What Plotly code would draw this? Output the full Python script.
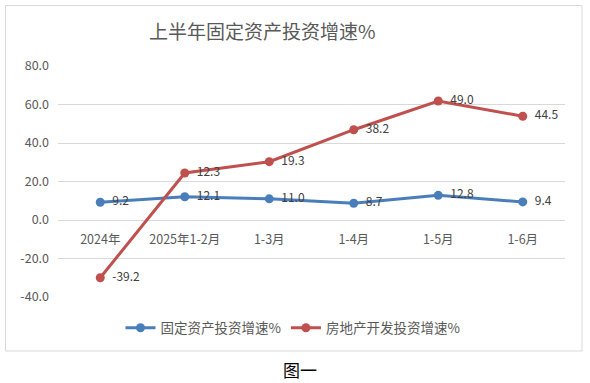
import plotly.graph_objects as go

categories = ["2024年", "2025年1-2月", "1-3月", "1-4月", "1-5月", "1-6月"]
fixed_asset = [9.2, 12.1, 11.0, 8.7, 12.8, 9.4]
real_estate = [-39.2, 12.3, 19.3, 38.2, 49.0, 44.5]
series_names = ["固定资产投资增速%", "房地产开发投资增速%"]
y_ticks = [-40, -20, 0, 20, 40, 60, 80]

W, H = 590, 383
L, R, T, B = 58, 25, 66, 86
pw, ph = W - L - R, H - T - B

def px_x(x):
    return (x - L) / pw

def px_y(y):
    return (H - B - y) / ph

FONT = "Noto Sans CJK SC, Noto Sans, sans-serif"
BLUE = "#4a7ebb"
RED = "#c0504d"

fig = go.Figure()
for name, vals, col in [(series_names[0], fixed_asset, BLUE), (series_names[1], real_estate, RED)]:
    fig.add_trace(go.Scatter(
        x=categories, y=vals, name=name, mode="lines+markers+text",
        stackgroup="s", fill="none",
        line=dict(color=col, width=3),
        marker=dict(color=col, size=9),
        text=[f"{v:.1f}" for v in vals], texttemplate="\u00a0\u00a0%{text}",
        textposition="middle right",
        textfont=dict(family=FONT, size=12, color="#404040"),
    ))

fig.update_layout(
    width=W, height=H,
    margin=dict(l=L, r=R, t=T, b=B, autoexpand=False),
    paper_bgcolor="white", plot_bgcolor="white",
    font=dict(family=FONT, color="#595959"),
    showlegend=True,
    legend=dict(orientation="h", x=px_x(293), xanchor="center", y=px_y(328), yanchor="middle",
                font=dict(size=13.5, color="#595959"), itemwidth=30, tracegroupgap=0),
    xaxis=dict(type="category", range=[-0.5, len(categories) - 0.5],
               showgrid=False, showline=False, ticks="",
               anchor="free", position=px_y(220), ticklabelstandoff=10,
               tickfont=dict(size=12.5, color="#595959"), fixedrange=True),
    yaxis=dict(range=[-40, 80], tickvals=y_ticks, ticktext=[f"{v:.1f}" for v in y_ticks],
               showgrid=True, gridcolor="#d9d9d9", gridwidth=1, zeroline=False,
               showline=False, tickfont=dict(size=12.5, color="#595959"), ticklabelstandoff=8),
    shapes=[dict(type="rect", xref="paper", yref="paper",
                 x0=px_x(5.5), x1=px_x(582), y0=px_y(351), y1=px_y(5.5),
                 line=dict(color="#d9d9d9", width=1), layer="below")],
    annotations=[
        dict(text="上半年固定资产投资增速%", xref="paper", yref="paper",
             x=px_x(262), y=px_y(31), showarrow=False, xanchor="center", yanchor="middle",
             font=dict(family=FONT, size=19, color="#595959")),
        dict(text="图一", xref="paper", yref="paper",
             x=px_x(300), y=px_y(369), showarrow=False, xanchor="center", yanchor="middle",
             font=dict(family=FONT, size=17, color="#000000")),
    ],
)

fig.write_html("out.html", config={"displayModeBar": False},
               post_script="document.body.style.margin='0';")
